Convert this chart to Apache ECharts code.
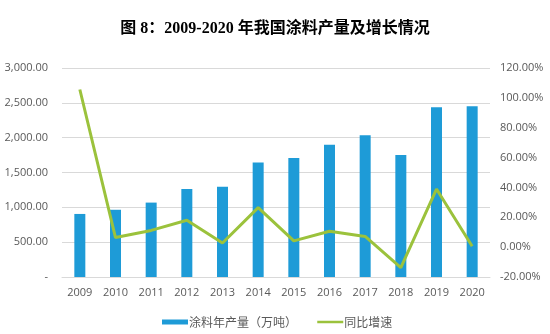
<!DOCTYPE html>
<html><head><meta charset="utf-8">
<script src="https://cdn.jsdelivr.net/npm/echarts@6/dist/echarts.min.js"></script>
<style>html,body{margin:0;padding:0;background:#fff}#c{width:550px;height:334px}</style>
</head><body><div id="c"></div>
<script>
const categories = ['2009','2010','2011','2012','2013','2014','2015','2016','2017','2018','2019','2020'];
const output = [905, 965, 1068, 1262, 1295, 1645, 1708, 1900, 2033, 1751, 2436, 2450];
const growth = [105.6, 6.4, 11.2, 18.0, 2.8, 26.5, 4.2, 10.6, 7.2, -13.7, 38.9, 0.6];
const seriesNames = ['涂料年产量（万吨）', '同比增速'];
const titleText = '图 8：2009-2020 年我国涂料产量及增长情况';

const chart = echarts.init(document.getElementById('c'));
const lbl = {color:'#595959', fontSize:11, fontFamily:'"Open Sans","Noto Sans CJK SC",sans-serif'};
chart.setOption({
  animation:false,
  title:{text:titleText,left:'center',top:16,textStyle:{fontSize:16,fontWeight:'bold',color:'#000',fontFamily:'"Liberation Serif","Noto Sans CJK SC",serif'}},
  grid:{left:62,right:60,top:68,bottom:57},
  legend:{top:311,left:157,itemGap:19,itemWidth:26,itemHeight:5,textStyle:{color:'#595959',fontSize:12,padding:[0,0,0,-4],fontFamily:'"Noto Sans CJK SC",sans-serif'},
    data:[{name:seriesNames[0],icon:'rect'},{name:seriesNames[1],itemStyle:{opacity:0},lineStyle:{width:2.5,color:'#9BC23C'}}]},
  xAxis:{type:'category',data:categories,axisLine:{lineStyle:{color:'#D9D9D9'}},axisTick:{show:false},axisLabel:Object.assign({margin:10},lbl)},
  yAxis:[
    {type:'value',min:0,max:3000,interval:500,axisLine:{show:false},axisTick:{show:false},splitLine:{lineStyle:{color:'#D9D9D9'}},
     axisLabel:Object.assign({margin:14,formatter:v=>v===0?'-':v.toLocaleString('en-US',{minimumFractionDigits:2,maximumFractionDigits:2})},lbl)},
    {type:'value',min:-20,max:120,interval:20,axisLine:{show:false},axisTick:{show:false},splitLine:{show:false},
     axisLabel:Object.assign({margin:10,formatter:v=>v.toFixed(2)+'%'},lbl)}
  ],
  series:[
    {name:seriesNames[0],type:'bar',data:output,barWidth:11,itemStyle:{color:'#1E9BD7'}},
    {name:seriesNames[1],type:'line',yAxisIndex:1,data:growth,symbol:'none',lineStyle:{color:'#9BC23C',width:3},itemStyle:{color:'#9BC23C'}}
  ]
});
</script></body></html>
